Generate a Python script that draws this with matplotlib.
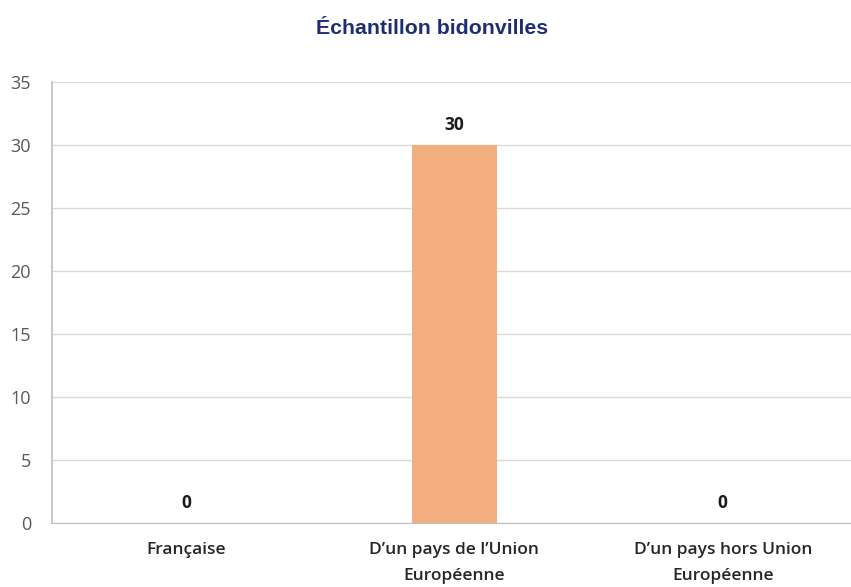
import matplotlib.pyplot as plt

categories = ['Française', "D\u2019un pays de l\u2019Union\nEuropéenne", "D\u2019un pays hors Union\nEuropéenne"]
values = [0, 30, 0]
yticks = [0, 5, 10, 15, 20, 25, 30, 35]

plt.rcParams['font.family'] = ['Open Sans', 'DejaVu Sans']

fig = plt.figure(figsize=(8.51, 5.87), dpi=100)
ax = fig.add_axes([0.061, 0.109, 0.946, 0.751])

x = range(len(categories))
bars = ax.bar(x, values, width=0.315, color='#F2AE7E', zorder=3)

for xi, v in zip(x, values):
    ax.text(xi, v + 0.85, f'{v}', ha='center', va='bottom', fontsize=12.5,
            fontweight='bold', color='#1a1a1a')

ax.set_xlim(-0.5, 2.5)
ax.set_ylim(0, 35)
ax.set_yticks(yticks)
ax.set_xticks(list(x))
ax.set_xticklabels(categories, fontsize=12.5, fontweight='semibold', color='#262626', linespacing=1.8)
ax.tick_params(axis='y', labelsize=13, labelcolor='#595959', length=0, pad=15)
ax.tick_params(axis='x', length=0, pad=14)

ax.grid(axis='y', color='#d9d9d9', linewidth=1, zorder=0)
for side in ['top', 'right']:
    ax.spines[side].set_visible(False)
ax.spines['left'].set_color('#bfbfbf')
ax.spines['bottom'].set_color('#bfbfbf')
ax.spines['left'].set_linewidth(1.2)

fig.text(0.508, 0.952, 'Échantillon bidonvilles', ha='center', va='center',
         fontsize=15.3, fontweight='bold', color='#1f2d72', family='Liberation Sans')

plt.savefig('out.png', dpi=100)
